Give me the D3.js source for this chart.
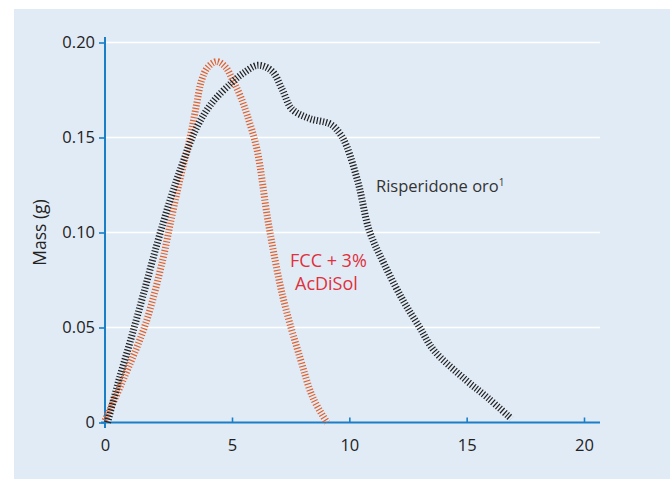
<!DOCTYPE html>
<html>
<head>
<meta charset="utf-8">
<script src="https://cdn.jsdelivr.net/npm/d3@7"></script>
<style>
  html, body { margin: 0; padding: 0; background: #ffffff; }
  svg { display: block; }
  text { font-family: "Open Sans", "Noto Sans", sans-serif; }
</style>
</head>
<body>
<svg id="chart" width="670" height="479"></svg>
<script>
// ---- data ----
const xTicks = [0, 5, 10, 15, 20];
const yTicks = [0, 0.05, 0.10, 0.15, 0.20];
const yTickLabels = ["0", "0.05", "0.10", "0.15", "0.20"];

const risperidoneX = [0.1, 0.5, 1.0, 1.5, 2.05, 2.56, 3.07, 3.6, 4.2, 5.0, 5.5, 6.1, 6.7, 7.15, 7.55, 8.3, 9.2, 9.6, 9.9, 10.4, 10.85, 11.5, 12.3, 13.0, 13.6, 15.0, 15.9, 16.9];
const risperidoneY = [0, 0.020, 0.043, 0.067, 0.094, 0.117, 0.137, 0.155, 0.168, 0.179, 0.184, 0.188, 0.185, 0.175, 0.165, 0.160, 0.157, 0.152, 0.145, 0.125, 0.101, 0.083, 0.064, 0.050, 0.038, 0.022, 0.013, 0.002];

const fccX = [0, 0.7, 1.6, 2.28, 2.56, 2.95, 3.35, 3.6, 3.8, 4.05, 4.4, 4.75, 5.04, 5.35, 5.64, 6.06, 6.55, 7.17, 7.9, 8.45, 9.05];
const fccY = [0.001, 0.022, 0.052, 0.086, 0.104, 0.128, 0.150, 0.167, 0.180, 0.187, 0.190, 0.187, 0.180, 0.172, 0.162, 0.144, 0.105, 0.066, 0.034, 0.013, 0];

const seriesNames = ["Risperidone oro", "FCC + 3%", "AcDiSol"];

// ---- drawing ----
const svg = d3.select("#chart");
const axisColor = "#1b7fc8";

svg.append("rect").attr("x", 14).attr("y", 9).attr("width", 656).attr("height", 470).attr("fill", "#e1ebf6");

const x = d3.scaleLinear().domain([0, 5, 20]).range([105, 232, 584]);
const y = d3.scaleLinear().domain([0, 0.20]).range([422.5, 42.5]);
const xEnd = 600;

// grid
svg.append("g").selectAll("line").data(yTicks.filter(d => d > 0)).join("line")
  .attr("x1", x(0)).attr("x2", xEnd)
  .attr("y1", d => y(d)).attr("y2", d => y(d))
  .attr("stroke", "#ffffff").attr("stroke-width", 1.6);

// y axis
const yAxis = svg.append("g").attr("transform", `translate(${x(0)},0)`)
  .call(d3.axisLeft(y).tickValues(yTicks).tickFormat((d, i) => yTickLabels[i]).tickSize(6).tickPadding(4));
yAxis.select(".domain").remove();
yAxis.selectAll(".tick line").attr("stroke", axisColor).attr("stroke-width", 1.6);
yAxis.selectAll(".tick text").attr("font-size", 16.5).attr("fill", "#222").attr("font-family", '"Open Sans", sans-serif');
svg.append("line").attr("x1", x(0)).attr("x2", x(0)).attr("y1", 37).attr("y2", 428)
  .attr("stroke", axisColor).attr("stroke-width", 2);

// x axis
const xAxis = svg.append("g").attr("transform", `translate(0,${y(0)})`)
  .call(d3.axisTop(x).tickValues(xTicks).tickSize(5).tickFormat(d3.format("d")));
xAxis.select(".domain").remove();
xAxis.selectAll(".tick line").attr("stroke", axisColor).attr("stroke-width", 1.6);
xAxis.selectAll(".tick text").attr("y", 28).attr("dy", 0).attr("font-size", 16.5).attr("fill", "#222")
  .attr("font-family", '"Open Sans", sans-serif');
svg.append("line").attr("x1", 101).attr("x2", xEnd).attr("y1", y(0)).attr("y2", y(0))
  .attr("stroke", axisColor).attr("stroke-width", 2);

// y label
svg.append("text").attr("transform", `translate(46,${y(0.10)}) rotate(-90)`)
  .attr("text-anchor", "middle").attr("font-size", 17.5).attr("fill", "#222").text("Mass (g)");

const line = d3.line().x(d => x(d[0])).y(d => y(d[1])).curve(d3.curveCatmullRom.alpha(0.5));

function hatched(xs, ys, color) {
  const pts = xs.map((v, i) => [v, ys[i]]);
  svg.append("path").attr("d", line(pts)).attr("fill", "none")
    .attr("stroke", color).attr("stroke-width", 7)
    .attr("stroke-dasharray", "1.2 1.9");
}
hatched(fccX, fccY, "#e0622f");
hatched(risperidoneX, risperidoneY, "#222222");

// labels
const t1 = svg.append("text").attr("x", 376).attr("y", 192).attr("font-size", 16.5).attr("fill", "#333");
t1.append("tspan").text(seriesNames[0]);
t1.append("tspan").attr("font-size", 10).attr("dy", -6).text("1");

svg.append("text").attr("x", 290).attr("y", 267).attr("font-size", 18).attr("fill", "#e0303c").text(seriesNames[1]);
svg.append("text").attr("x", 295).attr("y", 290).attr("font-size", 18).attr("fill", "#e0303c").text(seriesNames[2]);
</script>
</body>
</html>
